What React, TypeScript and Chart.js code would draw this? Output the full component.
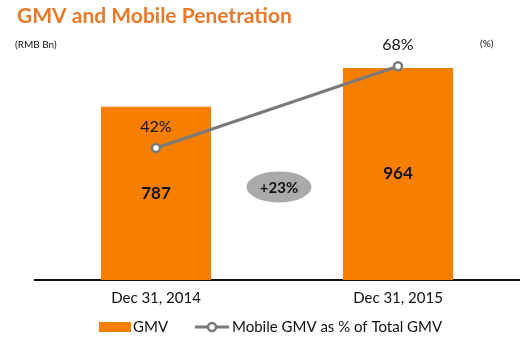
import React, { useEffect, useRef } from "react";
import { Chart, registerables } from "chart.js";

Chart.register(...registerables);

const categories = ["Dec 31, 2014", "Dec 31, 2015"];
const gmvValues = [787, 964];
const mobilePct = [42, 68];
const seriesLabels = ["GMV", "Mobile GMV as % of Total GMV"];
const growthLabel = "+23%";
const titleText = "GMV and Mobile Penetration";
const leftUnit = "(RMB Bn)";
const rightUnit = "(%)";

const ORANGE = "#F77F00";
const GREY = "#7A7A7A";
const FONT = "Lato, 'Open Sans', sans-serif";

const overlayPlugin = {
  id: "overlay",
  afterDatasetsDraw(chart: any) {
    const ctx = chart.ctx;
    const x = chart.scales.x;
    const y = chart.scales.y;
    ctx.save();
    const barMeta = chart.getDatasetMeta(1);
    barMeta.data.forEach((el: any, i: number) => {
      const cy = (el.y + el.base) / 2;
      ctx.font = `bold 17px ${FONT}`;
      ctx.fillStyle = "#111";
      ctx.textAlign = "center";
      ctx.textBaseline = "middle";
      ctx.fillText(String(gmvValues[i]), el.x, cy);
    });
    const lineMeta = chart.getDatasetMeta(0);
    lineMeta.data.forEach((el: any, i: number) => {
      ctx.font = `16px ${FONT}`;
      ctx.fillStyle = "#111";
      ctx.textAlign = "center";
      ctx.textBaseline = "middle";
      ctx.fillText(mobilePct[i] + "%", el.x, el.y - 21);
    });
    const gx = (x.getPixelForValue(0) + x.getPixelForValue(1)) / 2 + 2;
    const gy = y.getPixelForValue(423);
    ctx.beginPath();
    ctx.ellipse(gx, gy, 32.5, 15.5, 0, 0, Math.PI * 2);
    ctx.fillStyle = "#AAAAAA";
    ctx.fill();
    ctx.font = `bold 15px ${FONT}`;
    ctx.fillStyle = "#111";
    ctx.textAlign = "center";
    ctx.textBaseline = "middle";
    ctx.fillText(growthLabel, gx, gy + 1);
    ctx.restore();
  },
  afterDraw(chart: any) {
    const ctx = chart.ctx;
    ctx.save();
    ctx.textBaseline = "middle";
    ctx.textAlign = "left";
    ctx.font = `bold 21px ${FONT}`;
    ctx.fillStyle = "#E8792A";
    ctx.fillText(titleText, 17, 16);
    ctx.font = `10px ${FONT}`;
    ctx.fillStyle = "#111";
    ctx.fillText(leftUnit, 15, 45);
    ctx.fillText(rightUnit, 480, 44);
    ctx.fillStyle = ORANGE;
    ctx.fillRect(99, 322, 32, 10);
    ctx.font = `15px ${FONT}`;
    ctx.fillStyle = "#111";
    ctx.fillText(seriesLabels[0], 133, 327);
    ctx.strokeStyle = GREY;
    ctx.lineWidth = 3;
    ctx.beginPath();
    ctx.moveTo(195, 327);
    ctx.lineTo(229, 327);
    ctx.stroke();
    ctx.beginPath();
    ctx.arc(212, 327, 4, 0, Math.PI * 2);
    ctx.fillStyle = "#fff";
    ctx.fill();
    ctx.lineWidth = 2.5;
    ctx.stroke();
    ctx.fillStyle = "#111";
    ctx.fillText(seriesLabels[1], 232, 327);
    ctx.restore();
  },
};

export default function App() {
  const ref = useRef<HTMLCanvasElement>(null);
  useEffect(() => {
    document.body.style.margin = "0";
    const chart = new Chart(ref.current!, {
      type: "bar",
      data: {
        labels: categories,
        datasets: [
          {
            type: "line",
            label: seriesLabels[1],
            data: mobilePct,
            yAxisID: "y2",
            borderColor: GREY,
            borderWidth: 3,
            pointRadius: 4,
            pointBorderWidth: 2.5,
            pointBackgroundColor: "#fff",
            pointBorderColor: GREY,
            order: 0,
          } as any,
          {
            type: "bar",
            label: seriesLabels[0],
            data: gmvValues,
            yAxisID: "y",
            backgroundColor: ORANGE,
            barPercentage: 0.455,
            categoryPercentage: 1,
            order: 1,
          },
        ],
      },
      options: {
        responsive: false,
        animation: false,
        layout: { padding: { left: 35, right: 10, top: 60, bottom: 26 } },
        plugins: { legend: { display: false }, tooltip: { enabled: false } },
        scales: {
          x: {
            grid: { display: false, drawTicks: false },
            border: { display: true, color: "#111", width: 2 },
            ticks: { font: { family: FONT, size: 15 }, color: "#111", padding: 9 },
          },
          y: { display: false, min: 0, max: 1000 },
          y2: { display: false, min: 0, max: 70, position: "right" },
        },
      },
      plugins: [overlayPlugin],
    });
    return () => chart.destroy();
  }, []);
  return (
    <div style={{ width: 529, height: 342 }}>
      <canvas ref={ref} width={529} height={342} />
    </div>
  );
}
